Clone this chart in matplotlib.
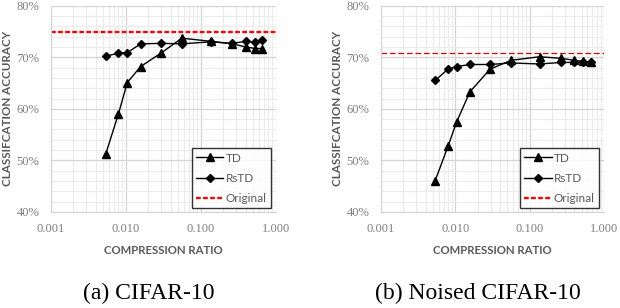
import matplotlib
matplotlib.use("Agg")
import matplotlib.pyplot as plt
from matplotlib.ticker import FixedLocator, FuncFormatter, NullFormatter, LogLocator
from matplotlib.lines import Line2D

# ---- data ----
ratio = [0.0054, 0.0080, 0.0105, 0.0158, 0.0295, 0.056, 0.136, 0.265, 0.40, 0.53, 0.66]

td_a = [51.2, 59.0, 65.1, 68.2, 70.8, 73.7, 73.1, 72.6, 72.0, 71.7, 71.7]
rstd_a = [70.2, 70.8, 70.9, 72.6, 72.7, 72.6, 73.0, 72.7, 73.1, 72.9, 73.3]
orig_a = 74.9

td_b = [46.1, 52.7, 57.5, 63.3, 67.7, 69.4, 70.1, 69.8, 69.4, 69.2, 69.0]
rstd_b = [65.5, 67.7, 68.2, 68.6, 68.6, 68.9, 68.7, 69.0, 69.0, 69.0, 69.0]
orig_b = 70.8

xticks = [0.001, 0.01, 0.1, 1.0]
xtick_labels = ["0.001", "0.010", "0.100", "1.000"]
yticks = [40, 50, 60, 70, 80]
captions = ["(a) CIFAR-10", "(b) Noised CIFAR-10"]
legend_labels = ["TD", "RsTD", "Original"]
xlabel = "COMPRESSION RATIO"
ylabel = "CLASSIFCATION ACCURACY"

fig = plt.figure(figsize=(6.2, 3.08), dpi=100)
W, H = 620, 308

grey_text = "#595959"
tick_grey = "#7f7f7f"

def px_axes(x0, x1, ytop, ybot):
    return fig.add_axes([x0 / W, 1 - ybot / H, (x1 - x0) / W, (ybot - ytop) / H])

thick_style = dict(color="#ff0000", lw=1.7, ls=(0, (2.0, 1.0)))
thin_style = dict(color="#e00000", lw=0.9, ls=(0, (4.5, 2.3)))

panels = [
    (px_axes(50.7, 275.7, 5.7, 212), td_a, rstd_a, orig_a, thick_style, captions[0], 149, -0.190),
    (px_axes(380.7, 604, 5.7, 212), td_b, rstd_b, orig_b, thin_style, captions[1], 478, -0.194),
]

for ax, td, rstd, orig, ostyle, cap, capx, ylx in panels:
    ax.set_xscale("log")
    ax.set_xlim(0.001, 1.0)
    ax.set_ylim(40, 80)
    ax.xaxis.set_major_locator(FixedLocator(xticks))
    ax.xaxis.set_major_formatter(FuncFormatter(
        lambda v, p: xtick_labels[xticks.index(min(xticks, key=lambda t: abs(t - v)))]))
    ax.xaxis.set_minor_locator(LogLocator(base=10, subs=range(2, 10)))
    ax.xaxis.set_minor_formatter(NullFormatter())
    ax.yaxis.set_major_locator(FixedLocator(yticks))
    ax.yaxis.set_minor_locator(FixedLocator(list(range(40, 81, 2))))
    ax.yaxis.set_major_formatter(FuncFormatter(lambda v, p: f"{int(round(v))}%"))
    ax.grid(which="major", color="#d4d4d4", lw=0.9)
    ax.grid(which="minor", color="#ebebeb", lw=0.8)
    ax.set_axisbelow(True)
    for s in ax.spines.values():
        s.set_visible(False)
    ax.spines["left"].set_visible(True)
    ax.spines["left"].set_color("#d4d4d4")
    ax.spines["bottom"].set_visible(True)
    ax.spines["bottom"].set_color("#d4d4d4")
    ax.tick_params(which="both", length=0)
    ax.tick_params(axis="y", pad=8)
    ax.tick_params(axis="x", pad=8)
    for lab in ax.get_xticklabels() + ax.get_yticklabels():
        lab.set_fontfamily("Liberation Serif")
        lab.set_fontsize(9)
        lab.set_color(tick_grey)

    ax.plot(ratio, td, color="black", lw=1.0, marker="^", ms=5.5, zorder=3)
    ax.plot(ratio, rstd, color="black", lw=1.0, marker="D", ms=4.2, zorder=3)
    ax.axhline(orig, zorder=2, **ostyle)

    ax.set_xlabel(xlabel, fontfamily="Lato", fontweight="bold", fontsize=8.2,
                  color=grey_text, labelpad=7)
    ax.set_ylabel(ylabel, fontfamily="Lato", fontweight="bold", fontsize=8.4,
                  color=grey_text, va="center")
    ax.yaxis.set_label_coords(ylx, 0.5)

    handles = [
        Line2D([], [], color="black", lw=1.0, marker="^", ms=5.5),
        Line2D([], [], color="black", lw=1.0, marker="D", ms=4.2),
        Line2D([], [], color="#ff0000", lw=1.7, ls=(0, (2, 1))),
    ]
    leg = ax.legend(handles, legend_labels, loc="lower right",
                    bbox_to_anchor=(0.978, 0.019), borderaxespad=0,
                    frameon=True, fancybox=False, edgecolor="black",
                    prop={"family": "Lato", "size": 8.5}, labelcolor=grey_text,
                    handlelength=2.3, handletextpad=0.2, labelspacing=0.78,
                    borderpad=0.35)
    leg.get_frame().set_linewidth(1.0)

    fig.text(capx / W, 1 - 299.5 / H, cap, fontfamily="Liberation Serif",
             fontsize=17, ha="center", va="baseline", color="black")

fig.savefig("out.png", dpi=100)
